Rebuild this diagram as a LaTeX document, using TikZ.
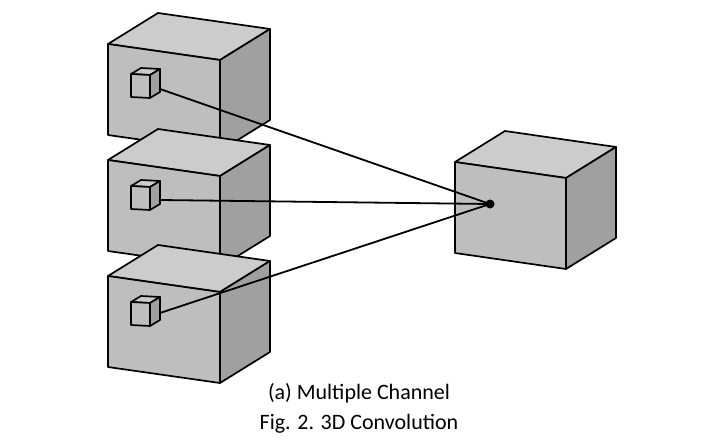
\documentclass[tikz,border=0pt]{standalone}
\usepackage{fontspec}
\setmainfont{Carlito}
\usepackage{tikz}
\definecolor{frontgray}{RGB}{190,190,190}
\definecolor{topgray}{RGB}{204,204,204}
\definecolor{sidegray}{RGB}{160,160,160}
\tikzset{face/.style={draw=black,line width=1.7pt,line join=round}}
% #1,#2 = front top-left corner, #3,#4 = width, height, #5,#6 = depth offset, #7 = skew
\newcommand{\boxcube}[7]{%
  \fill[face,fill=topgray] (#1,#2) -- ++(#5,#6) -- ++(#3,#7) -- ++(-#5,-#6) -- cycle;
  \fill[face,fill=sidegray] (#1+#3,#2+#7) -- ++(#5,#6) -- ++(0,#4) -- ++(-#5,-#6) -- cycle;
  \fill[face,fill=frontgray] (#1,#2) -- ++(#3,#7) -- ++(0,#4) -- ++(-#3,-#7) -- cycle;
}
\begin{document}
\begin{tikzpicture}[x=1pt,y=1pt,yscale=-1]
  \useasboundingbox (0,0) rectangle (720,441);
  % big cubes
  \boxcube{108}{44}{112}{91}{50}{-31}{16}
  \boxcube{108}{160}{112}{91}{50}{-31}{16}
  \boxcube{108}{276}{112}{91}{50}{-31}{16}
  \boxcube{455}{162}{111}{91}{50}{-31}{16}
  % small cubes
  \boxcube{131}{74}{19}{23}{10}{-6}{1}
  \boxcube{131}{186}{19}{23}{10}{-6}{1}
  \boxcube{131}{302}{19}{23}{10}{-6}{1}
  \coordinate (k1) at (160,89);
  \coordinate (k2) at (160,200);
  \coordinate (k3) at (160,313);
  \node[circle,fill=black,inner sep=0pt,minimum size=9pt] (out) at (490,204) {};
  \foreach \k in {k1,k2,k3}
    \draw[line width=1.8pt] (\k) -- (out.center);
  \node[font=\fontsize{22}{26}\selectfont] (sub) at (359,393) {(a) Multiple Channel};
  \node[font=\fontsize{22}{26}\selectfont] (cap) at (359,424) {Fig. 2. 3D Convolution};
\end{tikzpicture}
\end{document}
